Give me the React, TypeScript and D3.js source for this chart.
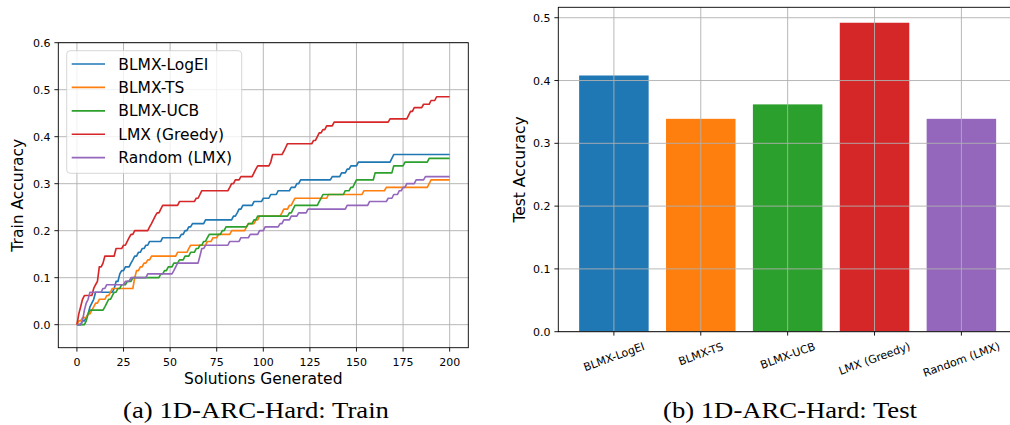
import React from "react";
import * as d3 from "d3";

// Method names, shared by both panels
const METHODS = ["BLMX-LogEI", "BLMX-TS", "BLMX-UCB", "LMX (Greedy)", "Random (LMX)"];
const COLORS = ["#1f77b4", "#ff7f0e", "#2ca02c", "#d62728", "#9467bd"];

// Best-so-far train accuracy: [solutions generated, accuracy] at every change
const TRAIN_LOGEI: [number, number][] = [[0,0],[3,.008],[5,.015],[6,.023],[7,.038],[8,.046],[9,.054],[10,.069],[20,.077],[21,.092],[23,.108],[24,.115],[26,.123],[29,.131],[30,.138],[31,.146],[33,.154],[35,.162],[37,.169],[39,.177],[46,.185],[56,.192],[58,.2],[60,.208],[62,.215],[69,.223],[84,.231],[86,.238],[87,.246],[89,.254],[95,.262],[100,.269],[104,.277],[108,.285],[115,.292],[118,.3],[120,.308],[137,.315],[142,.323],[145,.331],[147,.338],[151,.346],[169,.354],[170,.362]];
const TRAIN_TS: [number, number][] = [[0,0],[1,.008],[3,.015],[6,.023],[8,.031],[9,.038],[10,.046],[12,.054],[16,.062],[18,.069],[19,.077],[31,.1],[32,.115],[34,.123],[36,.131],[38,.138],[40,.146],[54,.154],[60,.162],[61,.169],[70,.177],[73,.185],[76,.192],[83,.2],[91,.208],[92,.215],[96,.223],[98,.231],[110,.238],[111,.246],[114,.254],[116,.262],[117,.269],[135,.277],[154,.285],[166,.292],[189,.3],[190,.308]];
const TRAIN_UCB: [number, number][] = [[0,0],[5,.008],[6,.023],[7,.031],[15,.038],[16,.046],[17,.054],[19,.062],[20,.069],[22,.077],[24,.085],[27,.092],[30,.1],[45,.108],[47,.115],[49,.123],[52,.131],[55,.138],[58,.146],[61,.154],[64,.162],[66,.169],[68,.177],[70,.185],[71,.192],[78,.2],[80,.208],[92,.215],[95,.223],[97,.231],[114,.238],[116,.246],[117,.254],[130,.262],[131,.269],[132,.277],[144,.285],[147,.292],[149,.3],[150,.308],[160,.323],[170,.338],[176,.346],[189,.354]];
const TRAIN_GREEDY: [number, number][] = [[0,0],[1,.023],[2,.038],[3,.054],[4,.062],[9,.077],[10,.085],[11,.092],[12,.123],[14,.131],[15,.146],[21,.162],[25,.169],[27,.177],[28,.185],[29,.192],[31,.2],[39,.208],[40,.215],[41,.223],[42,.231],[43,.238],[45,.246],[46,.254],[55,.262],[64,.269],[66,.277],[67,.285],[82,.292],[83,.3],[85,.308],[88,.315],[95,.323],[96,.331],[97,.338],[104,.346],[105,.362],[111,.369],[112,.377],[113,.385],[127,.392],[129,.4],[130,.408],[132,.415],[134,.423],[138,.431],[168,.438],[178,.446],[179,.454],[181,.462],[186,.469],[190,.477],[193,.485]];
const TRAIN_RANDOM: [number, number][] = [[0,0],[3,.008],[4,.031],[5,.046],[6,.054],[7,.069],[14,.077],[16,.085],[26,.092],[29,.1],[38,.108],[52,.115],[53,.123],[54,.131],[66,.146],[67,.162],[69,.169],[82,.177],[88,.185],[93,.192],[98,.2],[101,.208],[109,.215],[111,.223],[115,.231],[119,.238],[124,.246],[145,.254],[157,.262],[167,.269],[170,.277],[173,.285],[175,.292],[177,.3],[182,.308],[187,.315]];
const TRAIN_SERIES = [TRAIN_LOGEI, TRAIN_TS, TRAIN_UCB, TRAIN_GREEDY, TRAIN_RANDOM];
const LAST_STEP = 200;

// Final test accuracy per method
const TEST_ACC = [0.408, 0.339, 0.362, 0.492, 0.339];

const TRAIN_X_TICKS = [0, 25, 50, 75, 100, 125, 150, 175, 200];
const TRAIN_Y_TICKS = [0, 0.1, 0.2, 0.3, 0.4, 0.5, 0.6];
const TEST_Y_TICKS = [0, 0.1, 0.2, 0.3, 0.4, 0.5];

const CAPTIONS = ["(a) 1D-ARC-Hard: Train", "(b) 1D-ARC-Hard: Test"];

const FONT = "DejaVu Sans, sans-serif";
const SERIF = "Liberation Serif, Times New Roman, serif";
const GRID = "#b0b0b0";
const TICK_LEN = 3.9;
const TICK_PAD = 3.9;

// Expand change points into a polyline: each improvement is reached one step after the last value
function stepPoints(series: [number, number][]): [number, number][] {
  const pts: [number, number][] = [series[0]];
  for (let i = 1; i < series.length; i++) {
    const [x, y] = series[i];
    const prev = pts[pts.length - 1];
    if (x - 1 > prev[0]) pts.push([x - 1, series[i - 1][1]]);
    pts.push([x, y]);
  }
  const last = series[series.length - 1];
  if (last[0] < LAST_STEP) pts.push([LAST_STEP, last[1]]);
  return pts;
}

function TrainPanel() {
  const left = 58.3, right = 468.3, top = 42.7, bottom = 347.7;
  const x = d3.scaleLinear().domain([-10, 210]).range([left, right]);
  const y = d3.scaleLinear().domain([-0.049, 0.6]).range([bottom, top]);
  const line = d3.line<[number, number]>().x((d) => x(d[0])).y((d) => y(d[1]));
  const fmt = d3.format(".1f");

  const legendX = 66.7, legendY = 50.7, legendW = 175, legendH = 122.6;
  const rowGap = 23.4;
  return (
    <g>
      <defs>
        <clipPath id="train-clip">
          <rect x={left} y={top} width={right - left} height={bottom - top} />
        </clipPath>
      </defs>
      {TRAIN_X_TICKS.map((t) => (
        <line key={"gx" + t} x1={x(t)} x2={x(t)} y1={top} y2={bottom} stroke={GRID} strokeWidth={0.9} />
      ))}
      {TRAIN_Y_TICKS.map((t) => (
        <line key={"gy" + t} x1={left} x2={right} y1={y(t)} y2={y(t)} stroke={GRID} strokeWidth={0.9} />
      ))}
      <g clipPath="url(#train-clip)">
        {TRAIN_SERIES.map((s, i) => (
          <path key={METHODS[i]} d={line(stepPoints(s)) || ""} fill="none" stroke={COLORS[i]} strokeWidth={1.65} strokeLinejoin="round" />
        ))}
      </g>
      <rect x={left} y={top} width={right - left} height={bottom - top} fill="none" stroke="#000" strokeWidth={0.9} />
      {TRAIN_X_TICKS.map((t) => (
        <g key={"tx" + t}>
          <line x1={x(t)} x2={x(t)} y1={bottom} y2={bottom + TICK_LEN} stroke="#000" strokeWidth={0.9} />
          <text x={x(t)} y={bottom + TICK_LEN + TICK_PAD + 10.2} textAnchor="middle" fontSize={11} fontFamily={FONT}>{t}</text>
        </g>
      ))}
      {TRAIN_Y_TICKS.map((t) => (
        <g key={"ty" + t}>
          <line x1={left - TICK_LEN} x2={left} y1={y(t)} y2={y(t)} stroke="#000" strokeWidth={0.9} />
          <text x={left - TICK_LEN - TICK_PAD} y={y(t) + 4} textAnchor="end" fontSize={11} fontFamily={FONT}>{fmt(t)}</text>
        </g>
      ))}
      <text x={(left + right) / 2} y={383.5} textAnchor="middle" fontSize={15.5} fontFamily={FONT}>Solutions Generated</text>
      <text transform={`translate(23,${(top + bottom) / 2}) rotate(-90)`} textAnchor="middle" fontSize={15.5} fontFamily={FONT}>Train Accuracy</text>

      <rect x={legendX} y={legendY} width={legendW} height={legendH} rx={3.5} fill="#fff" fillOpacity={0.8} stroke="#ccc" strokeOpacity={0.8} strokeWidth={1} />
      {METHODS.map((m, i) => {
        const cy = 64 + i * rowGap;
        return (
          <g key={"lg" + m}>
            <line x1={71.7} x2={105} y1={cy} y2={cy} stroke={COLORS[i]} strokeWidth={1.65} />
            <text x={118.3} y={cy + 5.6} fontSize={15.5} fontFamily={FONT}>{m}</text>
          </g>
        );
      })}
    </g>
  );
}

function TestPanel() {
  const left = 558.3, right = 1017, top = 7.3, bottom = 331.7;
  const idx = METHODS.map((_, i) => i);
  const x = d3.scaleLinear().domain([-0.64, 4.64]).range([left, right]);
  const y = d3.scaleLinear().domain([0, 0.5166]).range([bottom, top]);
  const bw = x(0.8) - x(0);
  const fmt = d3.format(".1f");
  const labelFont = 11;
  const emWidths = [5.883, 4.398, 5.268, 6.846, 7.366];
  const rad = (20 * Math.PI) / 180;
  return (
    <g>
      {METHODS.map((m, i) => (
        <rect key={"bar" + m} x={x(i) - bw / 2} y={y(TEST_ACC[i])} width={bw} height={y(0) - y(TEST_ACC[i])} fill={COLORS[i]} />
      ))}
      {idx.map((i) => (
        <line key={"gx" + i} x1={x(i)} x2={x(i)} y1={top} y2={bottom} stroke={GRID} strokeWidth={0.9} />
      ))}
      {TEST_Y_TICKS.map((t) => (
        <line key={"gy" + t} x1={left} x2={right} y1={y(t)} y2={y(t)} stroke={GRID} strokeWidth={0.9} />
      ))}
      <rect x={left} y={top} width={right - left} height={bottom - top} fill="none" stroke="#000" strokeWidth={0.9} />
      {idx.map((i) => {
        const L = emWidths[i] * labelFont;
        const h = labelFont * 1.16;
        const cy = bottom + TICK_LEN + TICK_PAD + (L * Math.sin(rad) + h * Math.cos(rad)) / 2;
        return (
          <g key={"tx" + i}>
            <line x1={x(i)} x2={x(i)} y1={bottom} y2={bottom + TICK_LEN} stroke="#000" strokeWidth={0.9} />
            <text transform={`translate(${x(i)},${cy}) rotate(-20)`} textAnchor="middle" dy="0.36em" fontSize={labelFont} fontFamily={FONT}>{METHODS[i]}</text>
          </g>
        );
      })}
      {TEST_Y_TICKS.map((t) => (
        <g key={"ty" + t}>
          <line x1={left - TICK_LEN} x2={left} y1={y(t)} y2={y(t)} stroke="#000" strokeWidth={0.9} />
          <text x={left - TICK_LEN - TICK_PAD} y={y(t) + 4} textAnchor="end" fontSize={11} fontFamily={FONT}>{fmt(t)}</text>
        </g>
      ))}
      <text transform={`translate(524.5,${(top + bottom) / 2}) rotate(-90)`} textAnchor="middle" fontSize={15.5} fontFamily={FONT}>Test Accuracy</text>
    </g>
  );
}

export default function App() {
  return (
    <svg width={1010} height={425} viewBox="0 0 1010 425" style={{ position: "absolute", left: 0, top: 0, background: "#fff", display: "block" }}>
      <rect x={0} y={0} width={1010} height={425} fill="#fff" />
      <TrainPanel />
      <TestPanel />
      <text x={256} y={418} textAnchor="middle" fontSize={22.5} fontFamily={SERIF} textLength={266} lengthAdjust="spacingAndGlyphs">{CAPTIONS[0]}</text>
      <text x={790} y={418} textAnchor="middle" fontSize={22.5} fontFamily={SERIF} textLength={254} lengthAdjust="spacingAndGlyphs">{CAPTIONS[1]}</text>
    </svg>
  );
}
